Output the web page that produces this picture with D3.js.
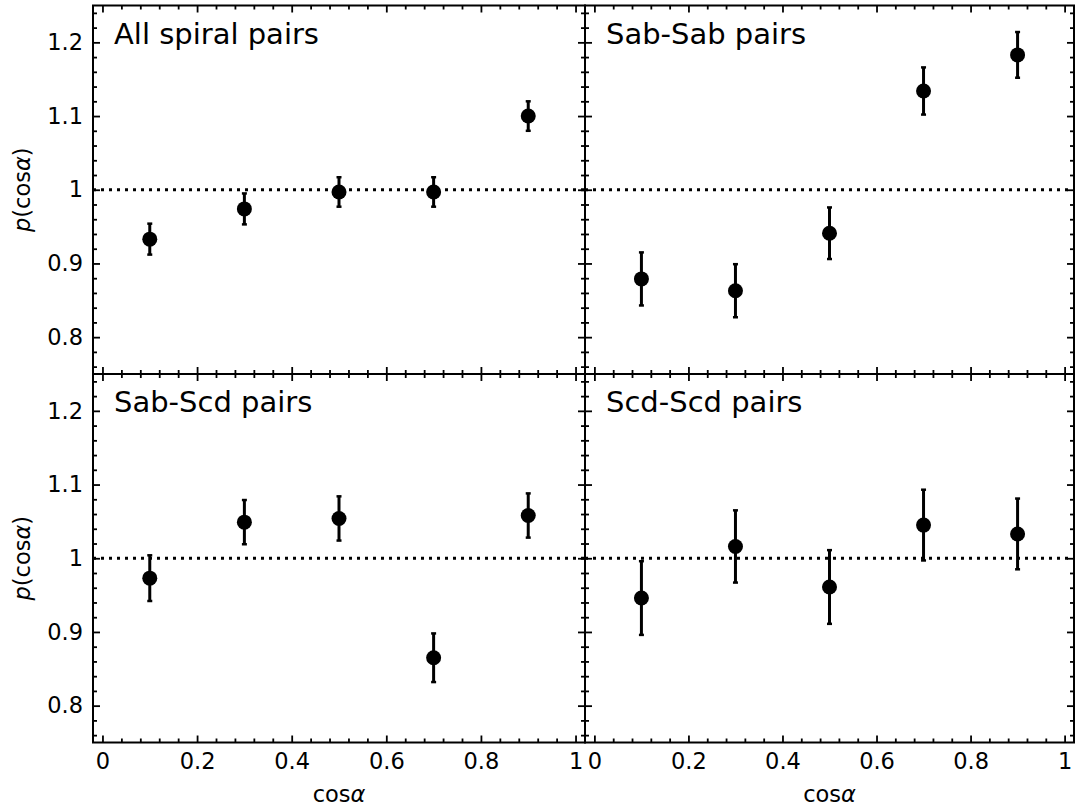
<!DOCTYPE html>
<html>
<head>
<meta charset="utf-8">
<script src="https://cdn.jsdelivr.net/npm/d3@7"></script>
<style>
body { margin: 0; background: #fff; }
svg { display: block; font-family: "DejaVu Sans", sans-serif; }
.tick line { stroke: #000; stroke-width: 1.8; }
</style>
</head>
<body>
<div id="chart"></div>
<script>
//----------------
//Data
//----------------
var cosAlpha = [0.1, 0.3, 0.5, 0.7, 0.9]

var allPairs = [0.933, 0.974, 0.997, 0.997, 1.100]
var allPairsErr = [0.021, 0.021, 0.020, 0.020, 0.020]

var sabSab = [0.879, 0.863, 0.941, 1.134, 1.183]
var sabSabErr = [0.036, 0.036, 0.035, 0.032, 0.031]

var sabScd = [0.973, 1.049, 1.054, 0.865, 1.058]
var sabScdErr = [0.031, 0.030, 0.030, 0.033, 0.030]

var scdScd = [0.946, 1.016, 0.961, 1.045, 1.033]
var scdScdErr = [0.050, 0.049, 0.050, 0.048, 0.048]

var panelTitles = ['All spiral pairs', 'Sab-Sab pairs', 'Sab-Scd pairs', 'Scd-Scd pairs']

var xTicks = [0, 0.2, 0.4, 0.6, 0.8, 1]
var xTickLabels = ['0', '0.2', '0.4', '0.6', '0.8', '1']
var yTicks = [0.8, 0.9, 1.0, 1.1, 1.2]
var yTickLabels = ['0.8', '0.9', '1', '1.1', '1.2']

//----------------
//Layout
//----------------
var _width = 1075,
	_height = 810,
	_labelSize = '22.5px'

var _cols = [[93, 585], [585, 1074]]
var _rows = [[5.5, 374], [374, 742.5]]

var _panels = [
	{ title: panelTitles[0], vals: allPairs, errs: allPairsErr, col: 0, row: 0 },
	{ title: panelTitles[1], vals: sabSab, errs: sabSabErr, col: 1, row: 0 },
	{ title: panelTitles[2], vals: sabScd, errs: sabScdErr, col: 0, row: 1 },
	{ title: panelTitles[3], vals: scdScd, errs: scdScdErr, col: 1, row: 1 }
]

var _svg = d3.select('#chart').append('svg')
	.attr('width', _width)
	.attr('height', _height)

//minor tick positions (majors removed)
var xMinor = d3.range(0, 26).map(function(i){ return +(i * 0.04).toFixed(2) })
	.filter(function(v){ return Math.abs(v / 0.2 - Math.round(v / 0.2)) > 1e-6 })
var yMinor = d3.range(38, 63).map(function(i){ return +(i * 0.02).toFixed(2) })
	.filter(function(v){ return Math.abs(v / 0.1 - Math.round(v / 0.1)) > 1e-6 })

function fmt(ticks, labels){
	return function(d){
		var i = ticks.findIndex(function(t){ return Math.abs(t - d) < 1e-9 })
		return i < 0 ? '' : labels[i]
	}
}

//drop the domain path and d3's default font settings
function cleanAxis(g){
	g.select('.domain').remove()
	g.attr('font-family', null).attr('font-size', null)
	g.selectAll('.tick text')
		.style('fill', '#000')
		.style('font-family', '"DejaVu Sans", sans-serif')
		.style('font-size', _labelSize)
}

_panels.forEach(function(p){
	var x0 = _cols[p.col][0], x1 = _cols[p.col][1]
	var y0 = _rows[p.row][0], y1 = _rows[p.row][1]

	var x = d3.scaleLinear().domain([-0.02, 1.02]).range([x0, x1])
	var y = d3.scaleLinear().domain([0.75, 1.25]).range([y1, y0])

	var g = _svg.append('g')
	var showX = p.row === 1
	var showY = p.col === 0

	//Bottom / top axes
	g.append('g').attr('transform', 'translate(0,' + y1 + ')')
		.call(d3.axisBottom(x).tickValues(xTicks).tickSize(-7).tickPadding(11)
			.tickFormat(showX ? fmt(xTicks, xTickLabels) : ''))
		.call(cleanAxis)
	g.append('g').attr('transform', 'translate(0,' + y1 + ')')
		.call(d3.axisBottom(x).tickValues(xMinor).tickSize(-4).tickFormat(''))
		.call(cleanAxis)
	g.append('g').attr('transform', 'translate(0,' + y0 + ')')
		.call(d3.axisTop(x).tickValues(xTicks).tickSize(-7).tickFormat(''))
		.call(cleanAxis)
	g.append('g').attr('transform', 'translate(0,' + y0 + ')')
		.call(d3.axisTop(x).tickValues(xMinor).tickSize(-4).tickFormat(''))
		.call(cleanAxis)

	//Left / right axes
	g.append('g').attr('transform', 'translate(' + x0 + ',0)')
		.call(d3.axisLeft(y).tickValues(yTicks).tickSize(-7).tickPadding(10)
			.tickFormat(showY ? fmt(yTicks, yTickLabels) : ''))
		.call(cleanAxis)
	g.append('g').attr('transform', 'translate(' + x0 + ',0)')
		.call(d3.axisLeft(y).tickValues(yMinor).tickSize(-4).tickFormat(''))
		.call(cleanAxis)
	g.append('g').attr('transform', 'translate(' + x1 + ',0)')
		.call(d3.axisRight(y).tickValues(yTicks).tickSize(-7).tickFormat(''))
		.call(cleanAxis)
	g.append('g').attr('transform', 'translate(' + x1 + ',0)')
		.call(d3.axisRight(y).tickValues(yMinor).tickSize(-4).tickFormat(''))
		.call(cleanAxis)

	//Reference line at 1
	g.append('line')
		.attr('x1', x0).attr('x2', x1)
		.attr('y1', y(1)).attr('y2', y(1))
		.attr('stroke', '#000')
		.attr('stroke-width', 3)
		.attr('stroke-dasharray', '3,5')

	//Error bars
	var pts = cosAlpha.map(function(c, i){ return { x: c, v: p.vals[i], e: p.errs[i] } })
	var eb = g.append('g')
	eb.selectAll('line.bar').data(pts).enter().append('line')
		.attr('x1', function(d){ return x(d.x) }).attr('x2', function(d){ return x(d.x) })
		.attr('y1', function(d){ return y(d.v - d.e) }).attr('y2', function(d){ return y(d.v + d.e) })
		.attr('stroke', '#000').attr('stroke-width', 3)
	;['lo', 'hi'].forEach(function(k){
		eb.selectAll('line.cap' + k).data(pts).enter().append('line')
			.attr('x1', function(d){ return x(d.x) - 2.5 }).attr('x2', function(d){ return x(d.x) + 2.5 })
			.attr('y1', function(d){ return y(k === 'lo' ? d.v - d.e : d.v + d.e) })
			.attr('y2', function(d){ return y(k === 'lo' ? d.v - d.e : d.v + d.e) })
			.attr('stroke', '#000').attr('stroke-width', 2.5)
	})
	//Markers
	g.selectAll('circle.pt').data(pts).enter().append('circle')
		.attr('cx', function(d){ return x(d.x) })
		.attr('cy', function(d){ return y(d.v) })
		.attr('r', 7.5)
		.attr('fill', '#000')

	//Frame
	g.append('rect')
		.attr('x', x0).attr('y', y0)
		.attr('width', x1 - x0).attr('height', y1 - y0)
		.attr('fill', 'none').attr('stroke', '#000').attr('stroke-width', 2)

	//Title
	g.append('text')
		.attr('x', x0 + 21).attr('y', y0 + 38)
		.style('font-size', '29px')
		.text(p.title)

	//Axis labels
	if ( showX ){
		var xl = g.append('text')
			.attr('x', (x0 + x1) / 2).attr('y', 802)
			.attr('text-anchor', 'middle')
			.style('font-size', _labelSize)
		xl.append('tspan').text('cos')
		xl.append('tspan').attr('font-style', 'italic').text('α')
	}
	if ( showY ){
		var yl = g.append('text')
			.attr('transform', 'translate(30,' + ((y0 + y1) / 2) + ') rotate(-90)')
			.attr('text-anchor', 'middle')
			.style('font-size', _labelSize)
		yl.append('tspan').attr('font-style', 'italic').text('p')
		yl.append('tspan').text('(cos')
		yl.append('tspan').attr('font-style', 'italic').text('α')
		yl.append('tspan').text(')')
	}
})
</script>
</body>
</html>
